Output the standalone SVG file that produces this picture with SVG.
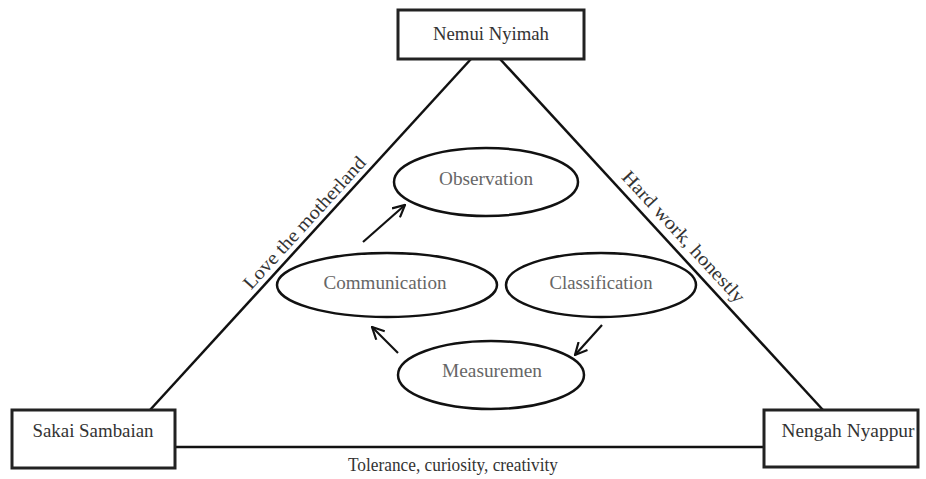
<svg xmlns="http://www.w3.org/2000/svg" width="926" height="479" viewBox="0 0 926 479">
<style>
.box{fill:#fff;stroke:#222;stroke-width:3}
.ell{fill:#fff;stroke:#111;stroke-width:2.5}
.edge{stroke:#111;stroke-width:2.5;fill:none}
.arr{stroke:#111;stroke-width:2.2;fill:none;marker-end:url(#ah)}
.t{font-family:"Liberation Serif",serif;font-size:19px;text-anchor:middle}
.bt{fill:#333}
.et{fill:#666}
.lt{fill:#333}
</style>
<defs>
<marker id="ah" viewBox="0 0 14 14" refX="13" refY="7" markerWidth="14" markerHeight="14" markerUnits="userSpaceOnUse" orient="auto">
<path d="M1,1 L13,7 L1,13" fill="none" stroke="#111" stroke-width="2.2"/>
</marker>
</defs>
<g id="connectors">
<line class="edge" x1="471" y1="59" x2="150" y2="410"/>
<line class="edge" x1="500" y1="59" x2="823" y2="410"/>
<line class="edge" x1="175" y1="447" x2="764" y2="447"/>
<text class="t lt" x="309" y="227" transform="rotate(-47.6 309 227)" textLength="172" lengthAdjust="spacingAndGlyphs">Love the motherland</text>
<text class="t lt" x="679" y="241" transform="rotate(47.4 679 241)" textLength="172" lengthAdjust="spacingAndGlyphs">Hard work, honestly</text>
<text class="t lt" x="453" y="471" textLength="210" lengthAdjust="spacingAndGlyphs">Tolerance, curiosity, creativity</text>
<line class="arr" x1="363" y1="242" x2="405" y2="205"/>
<line class="arr" x1="602" y1="325" x2="575" y2="355"/>
<line class="arr" x1="398" y1="353" x2="372" y2="327"/>
</g>
<g id="nemui">
<rect class="box" x="398" y="10" width="186" height="49"/>
<text class="t bt" x="491" y="40" textLength="116" lengthAdjust="spacingAndGlyphs">Nemui Nyimah</text>
</g>
<g id="sakai">
<rect class="box" x="12" y="410" width="163" height="58"/>
<text class="t bt" x="93" y="437" textLength="121" lengthAdjust="spacingAndGlyphs">Sakai Sambaian</text>
</g>
<g id="nengah">
<rect class="box" x="764" y="410" width="154" height="57"/>
<text class="t bt" x="848" y="437" textLength="133" lengthAdjust="spacingAndGlyphs">Nengah Nyappur</text>
</g>
<g id="observation">
<ellipse class="ell" cx="486" cy="182" rx="92" ry="34"/>
<text class="t et" x="486" y="185" textLength="94" lengthAdjust="spacingAndGlyphs">Observation</text>
</g>
<g id="communication">
<ellipse class="ell" cx="387" cy="285" rx="110" ry="32"/>
<text class="t et" x="385" y="289" textLength="123" lengthAdjust="spacingAndGlyphs">Communication</text>
</g>
<g id="classification">
<ellipse class="ell" cx="601" cy="285" rx="95" ry="32"/>
<text class="t et" x="601" y="289" textLength="103" lengthAdjust="spacingAndGlyphs">Classification</text>
</g>
<g id="measuremen">
<ellipse class="ell" cx="491" cy="375" rx="93" ry="34"/>
<text class="t et" x="492" y="377" textLength="100" lengthAdjust="spacingAndGlyphs">Measuremen</text>
</g>
</svg>
